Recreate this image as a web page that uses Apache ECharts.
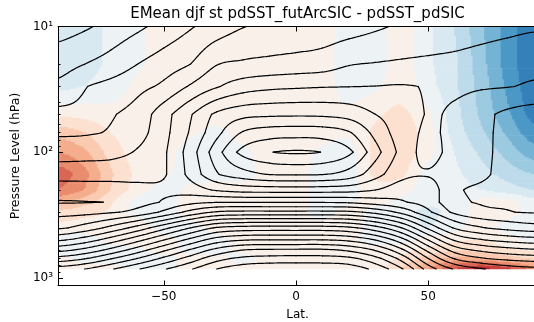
<!DOCTYPE html>
<html><head><meta charset="utf-8">
<script src="https://cdn.jsdelivr.net/npm/echarts@6/dist/echarts.min.js"></script>
<style>html,body{margin:0;padding:0;background:#fff}#chart{width:534px;height:322px}</style>
</head><body><div id="chart"></div>
<script>
// ---------------- data ----------------
const lats = [-90,-80,-70,-60,-50,-40,-30,-20,-10,0,10,20,30,40,50,60,70,80,90];
const levels = [10,20,30,50,70,100,150,200,250,300,400,500,600,700,850];

// background field (black contours), one row per pressure level, lat -90..90
const temp10  = [247,245.7,243.3,241,238.3,235.5,232.8,230.2,229.3,229,228.3,227.3,225.8,224.3,223.3,222.5,221.8,221.2,220.6];
const temp20  = [242.1,240,238,235,232.5,230,225.2,224.3,223.8,223.2,222.5,220.3,219.7,219.3,219,218.7,218,217.2,216.5];
const temp30  = [238.8,235.3,233.3,231.3,229,224.5,220.5,217.5,216.2,215.7,215.3,215.1,214.9,214.6,215.3,215.8,215.5,215.2,214.4];
const temp50  = [233.5,233.5,230.5,228,222,215.5,209,206.5,206,205.8,206,207,210,212.5,215.2,214.2,211.5,208.8,207.5];
const temp70  = [230.7,230.5,229.5,227,221.5,214.5,206.5,199.5,197.3,197,197.2,199.5,206.5,212.5,215.6,213.5,211.2,208.7,207.5];
const temp100 = [227.3,227,226.5,224.5,220.7,212.5,202,193.3,190.25,189.3,190.15,193.8,203,211.5,216.5,213,211.2,208.5,207.3];
const temp150 = [222,222,222,221.5,220.5,213.5,205.5,202,199.8,199.5,199.8,202,208,213.5,214.5,212,210.8,208.5,207.3];
const temp200 = [217.3,217.5,217.6,218.6,218.8,217.5,214.5,213,212.8,212.6,212.8,213.2,215,217.5,217.5,211,209.2,208.8,207.8];
const temp250 = [214.6,214.8,215.3,217.8,220.5,223.5,224.8,224.8,224.7,224.7,224.7,224.3,222.5,220.5,217.5,211.5,209.6,209.3,208.5];
const temp300 = [218.3,218.5,219.5,221.5,226,231.5,235.5,236.3,236.3,236.3,236.3,236,233.5,228.5,221,214,211,210.2,209.6];
const temp400 = [224.2,227,231.5,237,243.5,250,255.5,257,257.2,257.2,257.2,256,252,245,234,224.5,220.5,218.3,217];
const temp500 = [234.4,237.5,242.5,248.5,255,261.5,267.5,269.8,270.2,270.2,270.2,269,265,257,245,234.5,230.5,228.5,227.3];
const temp600 = [243.5,246.5,251.5,257.5,264,270.5,276.5,280,280.7,280.8,280.8,279,274.5,266,253.5,243,239,237,235.7];
const temp700 = [251.8,254.5,259.5,265,271,277,283,286,286.8,287,286.9,286,281.5,273,260,249.5,245.5,243.5,242.5];
const temp850 = [262.5,265,269.5,274.5,279.5,284.5,290,293,294,294,294,293,288.5,280.5,268,259.5,255.5,253,251.5];
const tempRows = [temp10,temp20,temp30,temp50,temp70,temp100,temp150,temp200,temp250,temp300,temp400,temp500,temp600,temp700,temp850];

// difference field (filled colours)
const anom10  = [-0.9,-0.7,-0.4,-0.1,0.2,0.2,0.2,0.2,0.2,0.2,0.2,-0.2,-0.2,0.2,-0.4,-1.0,-1.9,-2.7,-3.4];
const anom20  = [-0.9,-0.7,-0.4,-0.1,0.2,0.2,0.2,0.2,0.2,0.2,0.2,-0.3,-0.3,0.2,-0.4,-0.9,-1.8,-2.7,-3.4];
const anom30  = [-0.7,-0.5,-0.3,0.1,0.2,0.2,0.2,0.2,0.2,0.2,0.2,-0.2,-0.1,0.3,-0.3,-0.9,-1.7,-2.6,-3.3];
const anom50  = [0.4,0.3,0.2,0.2,0.2,0.2,0.2,0.2,0.2,0.2,0.2,0.1,0.4,0.6,0.1,-0.8,-1.6,-2.4,-3.2];
const anom70  = [1.3,1.0,0.5,0.2,0.2,0.1,-0.1,0.2,0.2,0.2,0.2,0.1,0.6,0.8,0.2,-0.7,-1.4,-2.1,-2.8];
const anom100 = [2.0,1.6,0.8,0.3,0.2,-0.2,-0.3,-0.1,0.2,0.2,-0.1,-0.2,0.6,0.8,0.2,-0.5,-1.1,-1.7,-2.3];
const anom150 = [2.8,2.2,1.1,0.4,0.1,-0.2,-0.2,-0.2,0.2,0.2,-0.2,-0.2,0.6,0.6,-0.2,-0.4,-0.8,-1.2,-1.5];
const anom200 = [2.5,2.0,1.0,0.3,-0.2,0.1,0.2,0.2,0.2,0.2,-0.2,-0.2,0.3,0.2,-0.3,-0.3,-0.5,-0.8,-1.0];
const anom250 = [1.6,1.2,0.6,-0.2,-0.2,0.2,0.2,0.2,0.2,0.2,-0.2,-0.1,0.2,-0.2,-0.4,-0.3,0.2,0.2,-0.3];
const anom300 = [0.9,0.7,0.4,-0.2,-0.2,0.2,0.2,0.2,0.2,0.2,-0.2,0.2,-0.2,-0.3,-0.6,-0.3,0.2,0.2,-0.2];
const anom400 = [0.3,0.2,0.3,0.3,-0.2,-0.2,0.2,0.2,0.2,0.2,0.2,0.2,-0.2,-0.3,-0.5,-0.2,0.2,-0.2,-0.3];
const anom500 = [-0.2,-0.2,0.1,0.3,0.2,-0.2,-0.2,0.2,0.2,0.2,0.2,0.1,-0.2,-0.2,0.2,0.4,0.5,0.2,-0.2];
const anom600 = [-0.2,-0.2,-0.1,-0.1,0.3,-0.2,-0.2,0.2,0.2,0.2,0.2,0.2,0.2,0.3,0.6,0.9,0.8,0.6,0.4];
const anom700 = [0.1,-0.1,-0.1,-0.2,-0.2,0.2,0.2,-0.2,0.2,0.2,0.2,0.2,0.2,0.6,1.2,1.6,1.5,1.2,0.9];
const anom850 = [0.2,0.1,0.1,-0.1,-0.2,0.2,0.2,0.2,0.2,0.2,0.2,0.1,0.3,1.0,2.0,3.0,3.7,3.2,2.4];
const anomRows = [anom10,anom20,anom30,anom50,anom70,anom100,anom150,anom200,anom250,anom300,anom400,anom500,anom600,anom700,anom850];

const contourLevels = [185,190,195,200,205,210,215,220,225,230,235,240,245,250,255,260,265,270,275,280,285,290,295,300];
const fillLevels = [-5,-4.5,-4,-3.5,-3,-2.5,-2,-1.5,-1,-0.5,0,0.5,1,1.5,2,2.5,3,3.5,4,4.5,5];

const xTickValues = [-50,0,50];
const xTickLabels = ['\u221250','0','50'];
const yTickValues = [10,100,1000];
const yTickLabels = ['10\u00b9','10\u00b2','10\u00b3'];
const yMinorTicks = [20,30,40,50,60,70,80,90,200,300,400,500,600,700,800,900];

const titleText = 'EMean djf st pdSST_futArcSIC - pdSST_pdSIC';
const xName = 'Lat.';
const yName = 'Pressure Level (hPa)';

// ---------------- colour map (RdBu_r) ----------------
const rdbuR = ['#053061','#2166ac','#4393c3','#92c5de','#d1e5f0','#f7f7f7','#fddbc7','#f4a582','#d6604d','#b2182b','#67001f'];
function hex2rgb(h){return [parseInt(h.slice(1,3),16),parseInt(h.slice(3,5),16),parseInt(h.slice(5,7),16)];}
function cmap(t){
  t=Math.max(0,Math.min(1,t));
  const s=t*(rdbuR.length-1); const k=Math.min(rdbuR.length-2,Math.floor(s)); const f=s-k;
  const a=hex2rgb(rdbuR[k]), b=hex2rgb(rdbuR[k+1]);
  return 'rgb('+a.map((c,i)=>Math.round(c+(b[i]-c)*f)).join(',')+')';
}
const nBins = fillLevels.length-1;
const binColors = [];
for (let k=0;k<nBins;k++) binColors.push(cmap(k/(nBins-1)));
function binIndex(v){let k=0; while(k<nBins-1 && v>=fillLevels[k+1]) k++; return k;}

// ---------------- field sampling (render-time smoothing) ----------------
const NU = lats.length, NV = levels.length;
function cr(p0,p1,p2,p3,t){return 0.5*((2*p1)+(-p0+p2)*t+(2*p0-5*p1+4*p2-p3)*t*t+(-p0+3*p1-3*p2+p3)*t*t*t);}
function sample(rows,u,v){
  const j=Math.min(Math.floor(v),NV-2), tv=v-j;
  const i=Math.min(Math.floor(u),NU-2), tu=u-i;
  const rowAt=r=>{const a=rows[r]; const g=k=>a[Math.max(0,Math.min(NU-1,k))]; return cr(g(i-1),g(i),g(i+1),g(i+2),tu);};
  return rowAt(j)*(1-tv)+rowAt(j+1)*tv;
}
function latOf(u){const i=Math.min(Math.floor(u),NU-2); return lats[i]+(lats[i+1]-lats[i])*(u-i);}
function pOf(v){const j=Math.min(Math.floor(v),NV-2), t=v-j; return Math.pow(10,Math.log10(levels[j])*(1-t)+Math.log10(levels[j+1])*t);}

const SU = 16;
const uR=[]; for(let i=0;i<NU-1;i++) for(let s=0;s<SU;s++) uR.push(i+s/SU); uR.push(NU-1);
const vR=[], vStart=[];
for(let j=0;j<NV-1;j++){ const n=Math.max(4,Math.ceil(Math.log10(levels[j+1]/levels[j])*90)); vStart.push(vR.length); for(let s=0;s<n;s++) vR.push(j+s/n); }
vStart.push(vR.length); vR.push(NV-1);
const GT = vR.map(v=>uR.map(u=>sample(tempRows,u,v)));

const cells=[];
for(let i=0;i<NU-1;i++) for(let j=0;j<NV-1;j++) cells.push([lats[i],levels[j],i,j]);

function cellPix(api,i,j){
  const a0=i*SU,a1=(i+1)*SU,b0=vStart[j],b1=vStart[j+1];
  const xs=[],ys=[];
  for(let a=a0;a<=a1;a++) xs.push(api.coord([latOf(uR[a]),100])[0]);
  for(let b=b0;b<=b1;b++) ys.push(api.coord([0,pOf(vR[b])])[1]);
  return {a0,a1,b0,b1,xs,ys};
}

function renderFill(params,api){
  const i=api.value(2), j=api.value(3);
  const {a0,a1,b0,b1,xs,ys}=cellPix(api,i,j);
  const children=[];
  for(let b=b0;b<b1;b++){
    const vm=(vR[b]+vR[b+1])/2;
    const y0=Math.min(ys[b-b0],ys[b-b0+1]), y1=Math.max(ys[b-b0],ys[b-b0+1]);
    let runStart=a0, runBin=binIndex(sample(anomRows,(uR[a0]+uR[a0+1])/2,vm));
    for(let a=a0+1;a<=a1;a++){
      const bin = a<a1 ? binIndex(sample(anomRows,(uR[a]+uR[a+1])/2,vm)) : -1;
      if(bin!==runBin){
        const x0=xs[runStart-a0], x1=xs[a-a0];
        children.push({type:'rect',silent:true,shape:{x:x0-0.35,y:y0-0.35,width:x1-x0+0.7,height:y1-y0+0.7},style:{fill:binColors[runBin]}});
        runStart=a; runBin=bin;
      }
    }
  }
  return {type:'group',children};
}

function renderLines(params,api){
  const i=api.value(2), j=api.value(3);
  const {a0,a1,b0,b1,xs,ys}=cellPix(api,i,j);
  let d='';
  for(let b=b0;b<b1;b++) for(let a=a0;a<a1;a++){
    const v0=GT[b][a], v1=GT[b][a+1], v2=GT[b+1][a+1], v3=GT[b+1][a];
    const X0=xs[a-a0], X1=xs[a-a0+1], Y0=ys[b-b0], Y1=ys[b-b0+1];
    const mn=Math.min(v0,v1,v2,v3), mx=Math.max(v0,v1,v2,v3);
    for(const L of contourLevels){
      if(L<mn||L>mx) continue;
      const c=[v0>=L,v1>=L,v2>=L,v3>=L];
      const pts=[null,null,null,null];
      if(c[0]!==c[1]){const t=(L-v0)/(v1-v0); pts[0]=[X0+(X1-X0)*t,Y0];}
      if(c[1]!==c[2]){const t=(L-v1)/(v2-v1); pts[1]=[X1,Y0+(Y1-Y0)*t];}
      if(c[3]!==c[2]){const t=(L-v3)/(v2-v3); pts[2]=[X0+(X1-X0)*t,Y1];}
      if(c[0]!==c[3]){const t=(L-v0)/(v3-v0); pts[3]=[X0,Y0+(Y1-Y0)*t];}
      const seg=(p,q)=>{d+='M'+p[0].toFixed(2)+' '+p[1].toFixed(2)+'L'+q[0].toFixed(2)+' '+q[1].toFixed(2);};
      const have=pts.map((p,k)=>p?k:-1).filter(k=>k>=0);
      if(have.length===2) seg(pts[have[0]],pts[have[1]]);
      else if(have.length===4){
        const ctr=(v0+v1+v2+v3)/4>=L;
        if(ctr===c[0]){seg(pts[0],pts[1]);seg(pts[2],pts[3]);}
        else {seg(pts[3],pts[0]);seg(pts[1],pts[2]);}
      }
    }
  }
  if(!d) return null;
  return {type:'path',silent:true,shape:{pathData:d},style:{stroke:'#000',lineWidth:1.2,fill:null,lineCap:'round',lineJoin:'round'}};
}

// ---------------- chart ----------------
const chart = echarts.init(document.getElementById('chart'),null,{renderer:'canvas'});
const fontFam = 'DejaVu Sans';
const axisCommonX = {type:'value',min:-90,max:90,z:10,splitLine:{show:false}};
const axisCommonY = {type:'log',logBase:10,min:10,max:1150,inverse:true,z:10,splitLine:{show:false},minorTick:{show:false}};
chart.setOption({
  animation:false,
  backgroundColor:'#fff',
  grid:{left:58,right:-3,top:26.5,bottom:36.5,containLabel:false},
  xAxis:[
    Object.assign({},axisCommonX,{position:'bottom',
      axisLine:{show:true,onZero:false,lineStyle:{color:'#000',width:1}},
      axisTick:{show:true,inside:true,length:5,customValues:xTickValues,lineStyle:{color:'#000'}},
      axisLabel:{show:true,customValues:xTickValues,margin:5,color:'#000',fontFamily:fontFam,fontSize:12,
        formatter:v=>{const k=xTickValues.indexOf(v);return k>=0?xTickLabels[k]:'';}}}),
    Object.assign({},axisCommonX,{position:'top',
      axisLine:{show:true,onZero:false,lineStyle:{color:'#000',width:1}},
      axisTick:{show:true,inside:true,length:5,customValues:xTickValues,lineStyle:{color:'#000'}},
      axisLabel:{show:false}})
  ],
  yAxis:[
    Object.assign({},axisCommonY,{position:'left',
      axisLine:{show:true,onZero:false,lineStyle:{color:'#000',width:1}},
      axisTick:{show:true,inside:true,length:5,customValues:yTickValues,lineStyle:{color:'#000'}},
      axisLabel:{show:true,customValues:yTickValues,margin:5,color:'#000',fontFamily:fontFam,fontSize:12,
        formatter:v=>{const k=yTickValues.findIndex(t=>Math.abs(t-v)<1e-6*t);return k>=0?yTickLabels[k]:'';}}}),
    Object.assign({},axisCommonY,{position:'left',offset:0,
      axisLine:{show:false,onZero:false},
      axisTick:{show:true,inside:true,length:2.5,customValues:yMinorTicks,lineStyle:{color:'#000'}},
      axisLabel:{show:false}})
  ],
  series:[
    {type:'custom',name:'difference',coordinateSystem:'cartesian2d',xAxisIndex:0,yAxisIndex:0,
      encode:{x:0,y:1},data:cells,renderItem:renderFill,clip:true,z:1,silent:true},
    {type:'custom',name:'climatology',coordinateSystem:'cartesian2d',xAxisIndex:0,yAxisIndex:0,
      encode:{x:0,y:1},data:cells,renderItem:renderLines,clip:true,z:2,silent:true}
  ],
  graphic:[
    {type:'text',x:297.5,y:14,style:{text:titleText,font:'15px "DejaVu Sans"',fill:'#000',textAlign:'center',textVerticalAlign:'middle'}},
    {type:'text',x:297.5,y:314.5,style:{text:xName,font:'12px "DejaVu Sans"',fill:'#000',textAlign:'center',textVerticalAlign:'middle'}},
    {type:'text',x:15.5,y:156,rotation:Math.PI/2,style:{text:yName,font:'12.5px "DejaVu Sans"',fill:'#000',textAlign:'center',textVerticalAlign:'middle'}}
  ]
});
</script>
</body></html>
